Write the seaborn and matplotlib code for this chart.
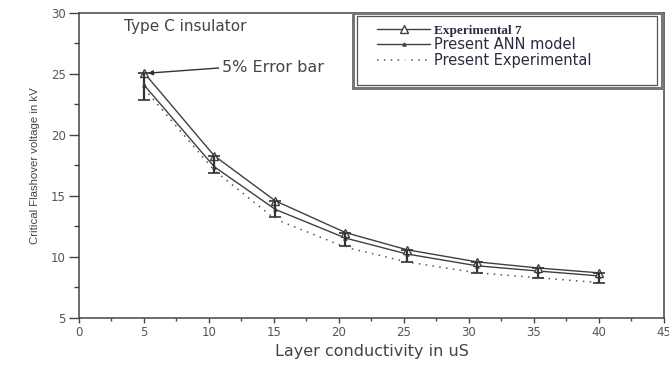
import matplotlib
matplotlib.use("Agg")
import matplotlib.pyplot as plt
import seaborn as sns
import numpy as np
from matplotlib.patches import Rectangle
from matplotlib.ticker import MultipleLocator

# values
conductivity = [5, 10.4, 15.1, 20.5, 25.2, 30.6, 35.3, 40.0]
exp7 = [25.1, 18.3, 14.6, 12.0, 10.6, 9.6, 9.1, 8.7]
ann_model = [24.1, 17.4, 13.9, 11.55, 10.25, 9.28, 8.85, 8.45]
present_exp = [23.8, 17.1, 13.1, 10.8, 9.6, 8.7, 8.3, 7.9]
err_bottom = [22.9, 16.9, 13.3, 10.9, 9.6, 8.7, 8.3, 7.9]

sns.set_style("ticks")
plt.rcParams["font.family"] = ["DejaVu Sans"]

line_col = "#404040"
text_col = "#2a2a40"

fig = plt.figure(figsize=(6.69, 3.67), dpi=100)
ax = fig.add_axes([0.118, 0.1335, 0.8745, 0.8315])

sns.lineplot(x=conductivity, y=exp7, ax=ax, color=line_col, lw=1.0,
             marker="^", markersize=6, markerfacecolor="white",
             markeredgecolor=line_col, markeredgewidth=1.0,
             label="Experimental 7", zorder=4)
sns.lineplot(x=conductivity, y=ann_model, ax=ax, color=line_col, lw=1.0,
             marker="^", markersize=2.5, markerfacecolor=line_col,
             markeredgecolor=line_col, label="Present ANN model", zorder=3)
sns.lineplot(x=conductivity, y=present_exp, ax=ax, color="#555555", lw=1.1,
             linestyle=(0, (1, 3.5)), marker="x", markersize=3,
             markeredgewidth=0.8, label="Present Experimental", zorder=2)

lower = np.array(exp7) - np.array(err_bottom)
ax.errorbar(conductivity, exp7, yerr=[lower, np.zeros_like(lower)],
            fmt="none", ecolor="#333333", elinewidth=1.6, capsize=4,
            capthick=1.2, zorder=5)

ax.set_xlim(0, 45)
ax.set_ylim(5, 30)
ax.xaxis.set_major_locator(MultipleLocator(5))
ax.xaxis.set_minor_locator(MultipleLocator(2.5))
ax.yaxis.set_major_locator(MultipleLocator(5))
ax.yaxis.set_minor_locator(MultipleLocator(2.5))
ax.tick_params(axis="x", which="major", length=3.5, width=1, pad=2.5,
               labelsize=8.5, labelcolor="#555555", color="#444444")
ax.tick_params(axis="x", which="minor", length=2.5, width=1, color="#444444")
ax.tick_params(axis="y", which="major", length=7, width=1, pad=2.5,
               labelsize=8.5, labelcolor="#555555", color="#444444")
ax.tick_params(axis="y", which="minor", length=3.5, width=1, color="#444444")
for s in ax.spines.values():
    s.set_color("#444444")
    s.set_linewidth(1.1)

ax.set_xlabel("Layer conductivity in uS", fontsize=11.5, color="#444444")
ax.xaxis.set_label_coords(0.5, -0.085)
ax.set_ylabel("Critical Flashover voltage in kV", fontsize=8.2, color="#444444",
              family=["Liberation Sans Narrow", "Liberation Sans", "DejaVu Sans"])
ax.yaxis.set_label_coords(-0.067, 0.5)

ax.text(3.5, 28.85, "Type C insulator", fontsize=11, color="#444444",
        ha="left", va="center")
ax.annotate("5% Error bar", xy=(5.2, 25.05), xytext=(11.0, 25.5),
            fontsize=11.5, color="#444444", ha="left", va="center",
            arrowprops=dict(arrowstyle="-|>", color="#333333", lw=1.0,
                            mutation_scale=7, relpos=(0, 0.5), shrinkA=0,
                            shrinkB=1))

# legend box with double border
ax.add_patch(Rectangle((0.468, 0.755), 0.529, 0.243, transform=ax.transAxes,
                       facecolor="white", edgecolor="#777777", lw=2.2,
                       zorder=6))
ax.add_patch(Rectangle((0.476, 0.765), 0.512, 0.225, transform=ax.transAxes,
                       facecolor="white", edgecolor="#555555", lw=0.9,
                       zorder=6))
leg = ax.legend(loc="upper left", bbox_to_anchor=(0.5, 0.983), frameon=False,
                fontsize=10.5, handlelength=3.6, handletextpad=0.3,
                labelspacing=0.02, borderaxespad=0)
leg.set_zorder(7)
for t in leg.get_texts():
    t.set_color(text_col)
leg.get_texts()[0].set_family(["Liberation Serif", "DejaVu Serif"])
leg.get_texts()[0].set_fontweight("bold")
leg.get_texts()[0].set_fontsize(9.5)

fig.savefig("out.png", dpi=100)
plt.close(fig)
